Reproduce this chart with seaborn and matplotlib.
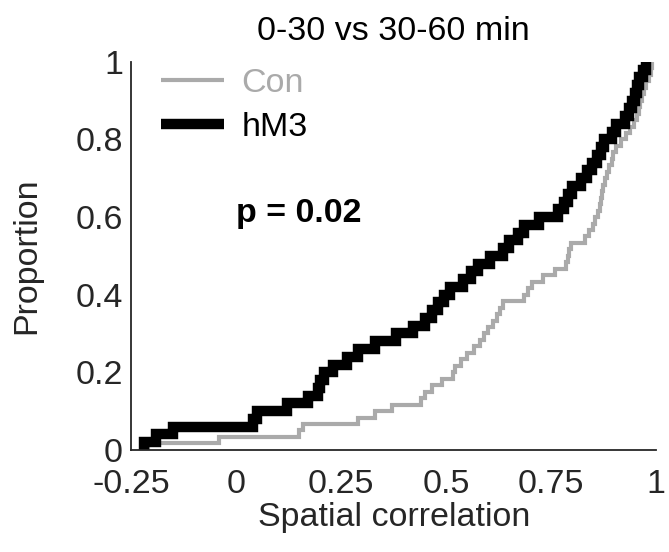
import numpy as np
import pandas as pd
import seaborn as sns
import matplotlib
matplotlib.use("Agg")
import matplotlib.pyplot as plt

# spatial correlation per cell
con_vals = [-0.21, -0.04, 0.15, 0.16, 0.29, 0.33, 0.37, 0.44, 0.45, 0.465,
            0.49, 0.515, 0.522, 0.535, 0.55, 0.565, 0.58, 0.59, 0.60, 0.612,
            0.62, 0.628, 0.635, 0.685, 0.695, 0.705, 0.73, 0.76, 0.785, 0.79,
            0.793, 0.797, 0.83, 0.84, 0.85, 0.855, 0.862, 0.867, 0.869, 0.871,
            0.873, 0.877, 0.882, 0.888, 0.894, 0.898, 0.903, 0.915, 0.928, 0.937,
            0.946, 0.954, 0.958, 0.962, 0.966, 0.970, 0.976, 0.982, 0.987, 0.99]
hm3_vals = [-0.22, -0.19, -0.15, 0.04, 0.05, 0.12, 0.17, 0.195, 0.20, 0.21,
            0.23, 0.265, 0.29, 0.33, 0.38, 0.42, 0.45, 0.465, 0.48, 0.495,
            0.51, 0.54, 0.56, 0.575, 0.605, 0.635, 0.65, 0.67, 0.685, 0.72,
            0.765, 0.78, 0.79, 0.80, 0.82, 0.835, 0.848, 0.858, 0.868, 0.875,
            0.895, 0.905, 0.925, 0.935, 0.943, 0.95, 0.955, 0.96, 0.968, 0.975]

groups = ["Con", "hM3"]
colors = {"Con": "#aaaaaa", "hM3": "#000000"}
widths = {"Con": 3, "hM3": 7.5}
x_ticks = [-0.25, 0, 0.25, 0.5, 0.75, 1]
x_labels = ["-0.25", "0", "0.25", "0.5", "0.75", "1"]
y_ticks = [0, 0.2, 0.4, 0.6, 0.8, 1]
y_labels = ["0", "0.2", "0.4", "0.6", "0.8", "1"]

df = pd.DataFrame({
    "corr": con_vals + hm3_vals,
    "group": ["Con"] * len(con_vals) + ["hM3"] * len(hm3_vals),
})

sns.set_style("white")
plt.rcParams["font.family"] = ["Liberation Sans", "DejaVu Sans"]
fs = 24.5
dark = "#262626"

fig = plt.figure(figsize=(6.69, 5.52), dpi=100)
ax = fig.add_axes([0.196, 0.185, 0.785, 0.703])

for g in groups:
    sns.ecdfplot(data=df[df["group"] == g], x="corr", ax=ax,
                 color=colors[g], linewidth=widths[g], label=g)
for ln in ax.lines:
    ln.set_solid_capstyle("butt")
    ln.set_solid_joinstyle("miter")

ax.set_xlim(-0.25, 1)
ax.set_ylim(0, 1)
ax.set_xticks(x_ticks)
ax.set_xticklabels(x_labels)
ax.set_yticks(y_ticks)
ax.set_yticklabels(y_labels)
ax.tick_params(direction="in", length=5, width=1.3, colors=dark,
               labelsize=fs)
ax.tick_params(axis="x", pad=14)
ax.tick_params(axis="y", pad=6)
for s in ["top", "right"]:
    ax.spines[s].set_visible(False)
for s in ["left", "bottom"]:
    ax.spines[s].set_color(dark)
    ax.spines[s].set_linewidth(1.3)

ax.set_xlabel("Spatial correlation", fontsize=fs, color=dark, labelpad=1)
ax.set_ylabel("Proportion", fontsize=fs, color=dark, labelpad=24)
ax.set_title("0-30 vs 30-60 min", fontsize=fs, color="black", pad=16)

ax.text(0.0, 0.61, "p = 0.02", fontsize=fs, fontweight="bold",
        color="black", va="center", ha="left")

leg = ax.legend(loc="upper left", bbox_to_anchor=(0.012, 1.045), frameon=False,
                fontsize=fs, handlelength=1.85, handletextpad=0.5,
                labelspacing=0.38, borderaxespad=0.3)
for t, g in zip(leg.get_texts(), groups):
    t.set_color(colors[g])
for h in leg.get_lines():
    h.set_solid_capstyle("butt")

fig.savefig("out.png", dpi=100)
